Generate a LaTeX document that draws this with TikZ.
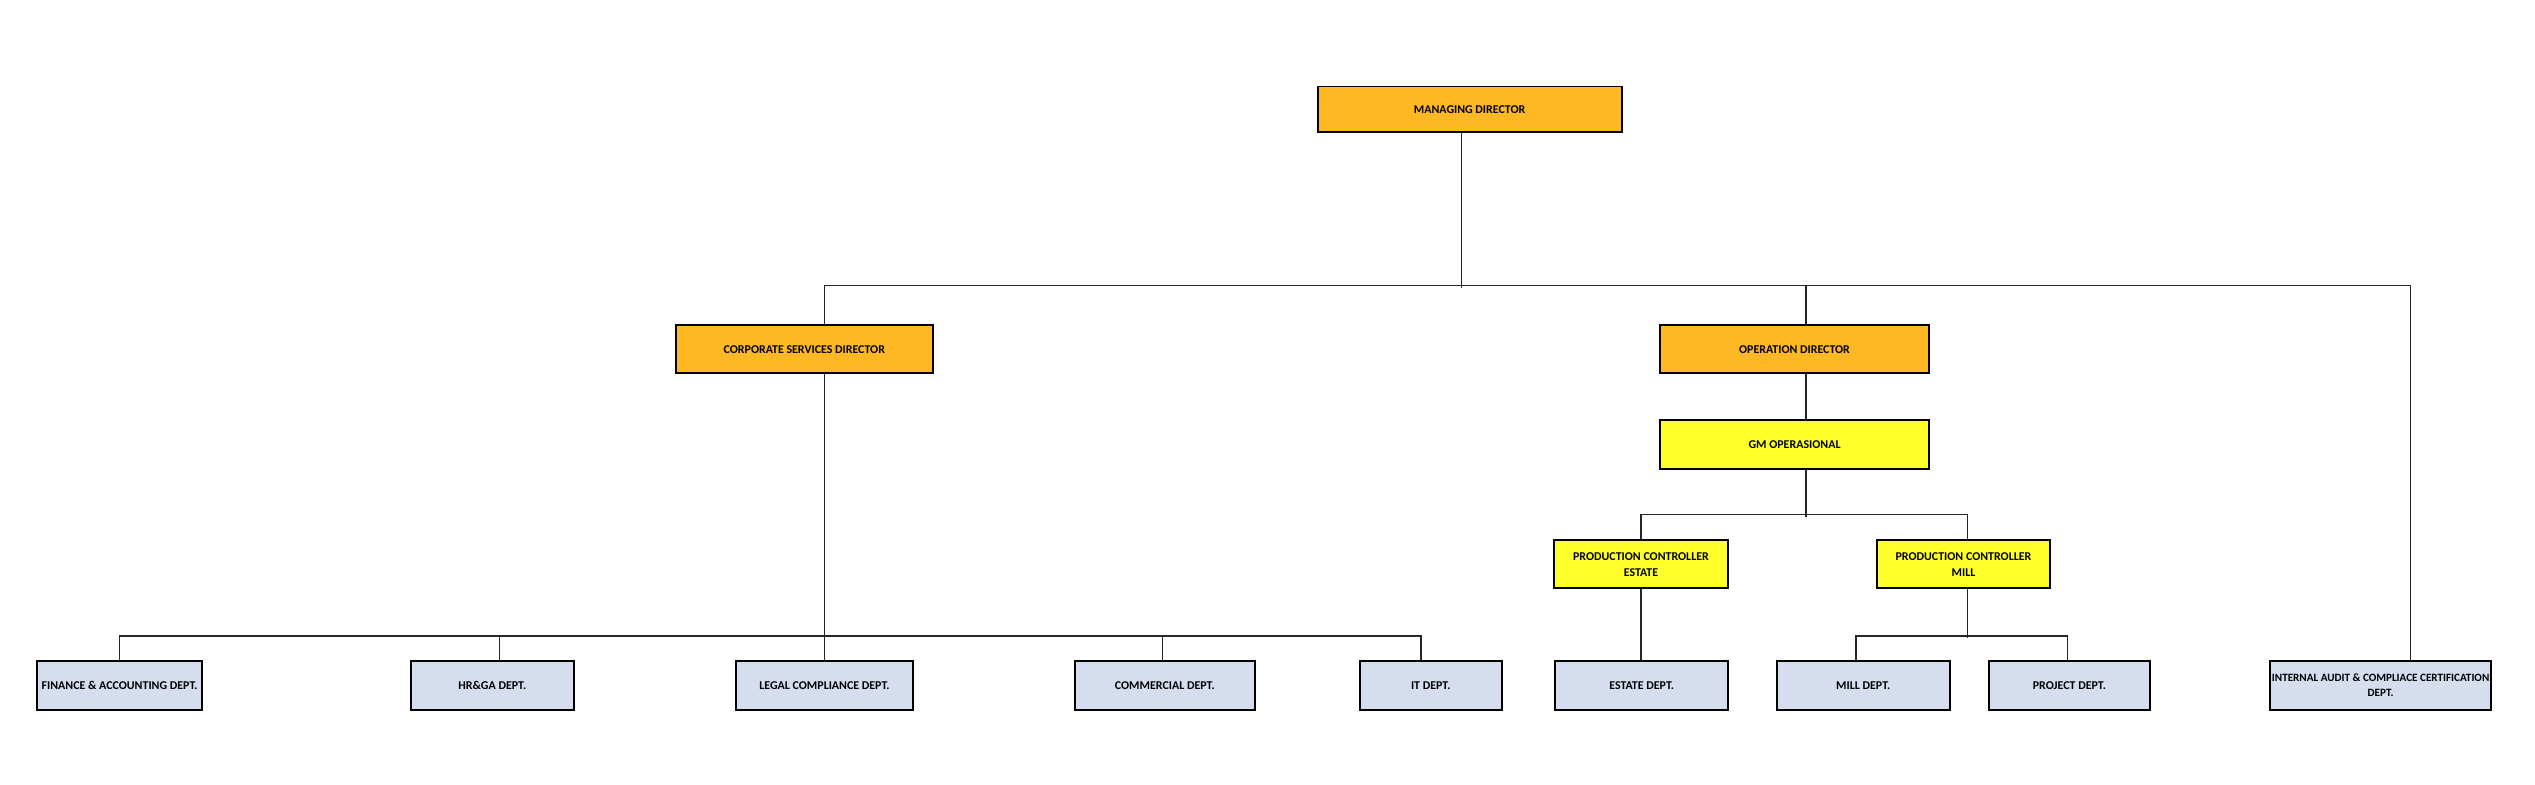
\documentclass[tikz,border=0pt]{standalone}
\usepackage{fontspec}
\setmainfont{Carlito}
\definecolor{dirorange}{HTML}{FDB823}
\definecolor{gmyellow}{HTML}{FFFF2C}
\definecolor{deptblue}{HTML}{D5DDEF}
\tikzset{
    unit/.style={draw, line width=1.75pt, minimum height=1.5cm, inner sep=1pt, align=center,
        font=\bfseries\fontsize{10.5}{14}\selectfont},
    director/.style={unit, fill=dirorange},
    manager/.style={unit, fill=gmyellow},
    dept/.style={unit, fill=deptblue},
    link/.style={line width=1.1pt, color=black!85}
}
\begin{document}
\begin{tikzpicture}[x=0.05cm, y=-0.05cm]
    \useasboundingbox (0,0) rectangle (1568,485);

    \node[director, minimum width=9.4cm, minimum height=1.4cm] (md) at (909,67.5) {MANAGING DIRECTOR};
    \node[director, minimum width=7.95cm] (csd) at (497.5,216) {CORPORATE SERVICES DIRECTOR};
    \node[director, minimum width=8.3cm] (od) at (1110,216) {OPERATION DIRECTOR};
    \node[manager, minimum width=8.3cm] (gm) at (1110,275) {GM OPERASIONAL};
    \node[manager, minimum width=5.4cm] (pce) at (1015,349) {PRODUCTION CONTROLLER\\ESTATE};
    \node[manager, minimum width=5.35cm] (pcm) at (1214.5,349) {PRODUCTION CONTROLLER\\MILL};

    \node[dept, minimum width=5.1cm] (fin) at (74,424) {FINANCE \& ACCOUNTING DEPT.};
    \node[dept, minimum width=5.05cm] (hr) at (304.5,424) {HR\&GA DEPT.};
    \node[dept, minimum width=5.5cm] (legal) at (510,424) {LEGAL COMPLIANCE DEPT.};
    \node[dept, minimum width=5.55cm] (comm) at (720.5,424) {COMMERCIAL DEPT.};
    \node[dept, minimum width=4.4cm] (it) at (885,424) {IT DEPT.};
    \node[dept, minimum width=5.35cm] (est) at (1015.5,424) {ESTATE DEPT.};
    \node[dept, minimum width=5.35cm] (mill) at (1152.5,424) {MILL DEPT.};
    \node[dept, minimum width=5cm] (proj) at (1280,424) {PROJECT DEPT.};
    \node[dept, minimum width=6.85cm, font=\bfseries\fontsize{9.8}{13}\selectfont] (audit) at (1472.5,424)
        {INTERNAL AUDIT \& COMPLIACE CERTIFICATION\\DEPT.};

    % managing director down to the directors
    \draw[link] ([xshift=-.25cm]md.south) -- ++(0,96);
    \draw[link] ([xshift=.625cm]csd.north) -- ++(0,-24) -| ([xshift=.925cm]audit.north);
    \draw[link] ([xshift=.35cm]od.north) -- ++(0,-24);

    % operation side
    \draw[link] ([xshift=.35cm]od.south) -- ([xshift=.35cm]gm.north);
    \draw[link] ([xshift=.35cm]gm.south) -- ++(0,29);
    \draw[link] (pce.north) -- ++(0,-15) -| ([xshift=.125cm]pcm.north);
    \draw[link] (pce.south) -- (pce.south |- est.north);
    \draw[link] ([xshift=.125cm]pcm.south) -- ++(0,30);
    \draw[link] ([xshift=-.225cm]mill.north) -- ++(0,-15) -| ([xshift=-.05cm]proj.north);

    % corporate side
    \draw[link] ([xshift=.625cm]csd.south) -- ++(0,178);
    \draw[link] (fin.north) -- ++(0,-15) -| ([xshift=-.3cm]it.north);
    \draw[link] ([xshift=.225cm]hr.north) -- ++(0,-15);
    \draw[link] ([xshift=-.075cm]comm.north) -- ++(0,-15);
\end{tikzpicture}
\end{document}
